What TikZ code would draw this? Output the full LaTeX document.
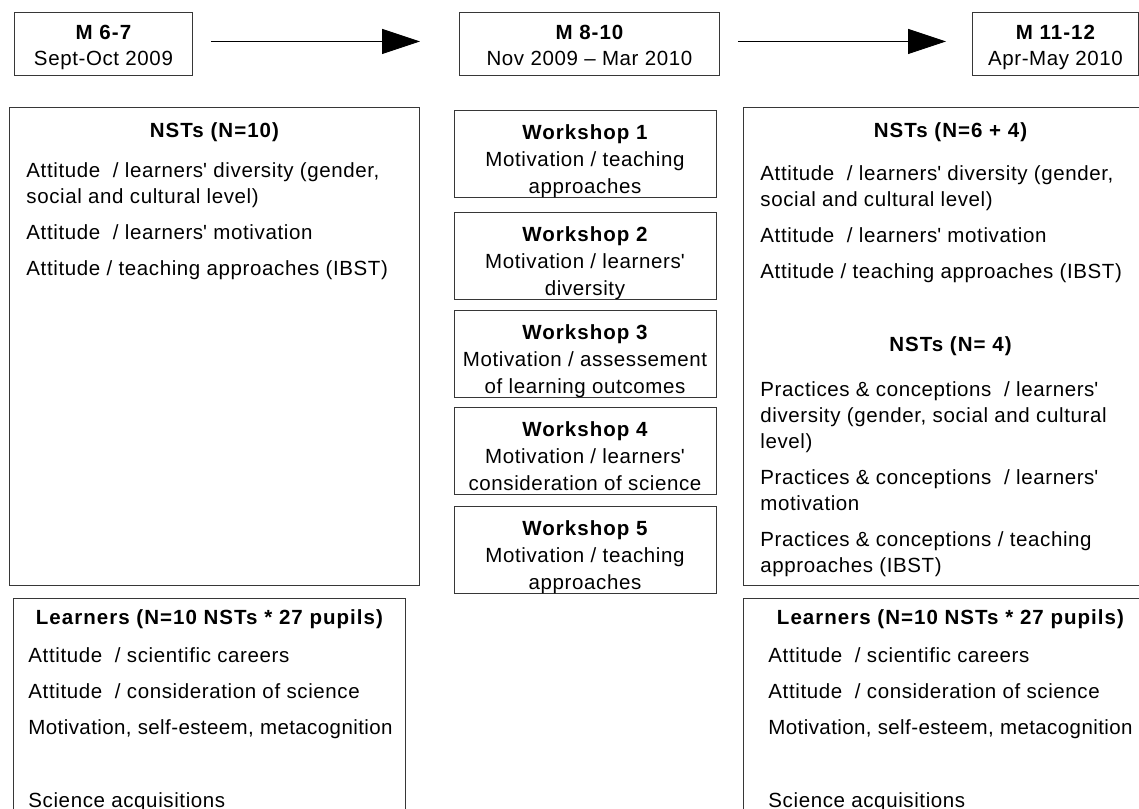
\documentclass[tikz,border=0pt]{standalone}
\usepackage{fontspec}
\setmainfont{Liberation Sans}[LetterSpace=3]
\usepackage{tikz}
\usetikzlibrary{arrows.meta, positioning}
\definecolor{boxgray}{RGB}{55, 55, 55}
\newcommand{\bodyfont}{\fontsize{20.5}{26}\selectfont}
\newcommand{\ap}{\textquotesingle}
\newcommand{\boxtitle}[1]{{\bfseries\addfontfeature{LetterSpace=5}#1}}
\newcommand{\tightline}[1]{\mbox{\addfontfeature{LetterSpace=2}#1}}
\newcommand{\datetext}[3]{\parbox[t][63pt][t]{#1}{\centering\rule{0pt}{27pt}\boxtitle{#2}\\#3}}
\newcommand{\wstext}[3]{\parbox[t][87pt][t]{262pt}{\fontsize{20.5}{27}\selectfont\centering\rule{0pt}{29pt}\boxtitle{#1}\\#2\\#3}}
\newcommand{\paneltext}[3]{\parbox[t][#2][t]{#1}{\setlength{\parskip}{10pt}\raggedright #3}}
\newcommand{\panelhead}[2][30pt]{{\centering\rule{0pt}{#1}\boxtitle{#2}\par}}

\begin{document}
\begin{tikzpicture}[x=1pt, y=-1pt,
  datebox/.style={draw=boxgray, line width=0.9pt, anchor=north west, inner sep=0pt, font=\bodyfont},
  wsbox/.style={draw=boxgray, line width=0.9pt, anchor=north, inner sep=0pt, font=\bodyfont},
  panel/.style={draw=boxgray, line width=0.9pt, anchor=north west, inner ysep=0pt, font=\bodyfont},
  flowarrow/.style={-{Triangle[length=38pt, width=25pt]}, line width=1pt, black}
]

\useasboundingbox (0,0) rectangle (1139,808);
\clip (0,0) rectangle (1139,808);

% Time line
\node[datebox] (m67) at (14,12) {\datetext{178pt}{M 6-7}{Sept-Oct 2009}};
\node[datebox] (m810) at (459,12) {\datetext{260pt}{M 8-10}{Nov 2009 – Mar 2010}};
\node[datebox] (m1112) at (972,12) {\datetext{166pt}{M 11-12}{Apr-May 2010}};

\draw[flowarrow, shorten <=18pt, shorten >=39pt] ([yshift=2.5pt]m67.east) -- ([yshift=2.5pt]m810.west);
\draw[flowarrow, shorten <=18pt, shorten >=26pt] ([yshift=2.5pt]m810.east) -- ([yshift=2.5pt]m1112.west);

% Before: teachers
\node[panel, inner xsep=17pt] (nstsPre) at (9,107) {\paneltext{376pt}{478pt}{%
\panelhead{NSTs (N=10)}
\vspace{4pt}
Attitude\ \ / learners\ap{} diversity (gender,\\ social and cultural level)\par
Attitude\ \ / learners\ap{} motivation\par
Attitude / teaching approaches (IBST)\par}};

% Before: learners
\node[panel, inner xsep=15pt] (learnPre) at (13,598) {\paneltext{362pt}{240pt}{%
\panelhead[26pt]{Learners (N=10 NSTs * 27 pupils)}
\vspace{2pt}
Attitude\ \ / scientific careers\par
Attitude\ \ / consideration of science\par
\tightline{Motivation, self-esteem, metacognition}\par
\vspace{37pt}
Science acquisitions\par}};

% Workshops
\node[wsbox] (ws1) at (585,110) {\wstext{Workshop 1}{Motivation / teaching}{approaches}};
\node[wsbox] (ws2) at (585,212) {\wstext{Workshop 2}{Motivation / learners\ap}{diversity}};
\node[wsbox] (ws3) at (585,310) {\wstext{Workshop 3}{Motivation / assessement}{of learning outcomes}};
\node[wsbox] (ws4) at (585,407) {\wstext{Workshop 4}{Motivation / learners\ap}{consideration of science}};
\node[wsbox] (ws5) at (585,506) {\wstext{Workshop 5}{Motivation / teaching}{approaches}};

% After: teachers
\node[panel, inner xsep=17pt] (nstsPost) at (743,107) {\paneltext{380pt}{478pt}{%
\panelhead{NSTs (N=6 + 4)}
\vspace{7pt}
Attitude\ \ / learners\ap{} diversity (gender,\\ social and cultural level)\par
Attitude\ \ / learners\ap{} motivation\par
Attitude / teaching approaches (IBST)\par
\vspace{37pt}
\panelhead[0pt]{NSTs (N= 4)}
\vspace{9pt}
Practices \& conceptions\ \ / learners\ap\\ diversity (gender, social and cultural\\ level)\par
Practices \& conceptions\ \ / learners\ap\\ motivation\par
Practices \& conceptions / teaching\\ approaches (IBST)\par}};

% After: learners
\node[panel, inner xsep=25pt] (learnPost) at (743,598) {\paneltext{364pt}{240pt}{%
\panelhead[26pt]{Learners (N=10 NSTs * 27 pupils)}
\vspace{2pt}
Attitude\ \ / scientific careers\par
Attitude\ \ / consideration of science\par
\tightline{Motivation, self-esteem, metacognition}\par
\vspace{37pt}
Science acquisitions\par}};

\end{tikzpicture}
\end{document}
